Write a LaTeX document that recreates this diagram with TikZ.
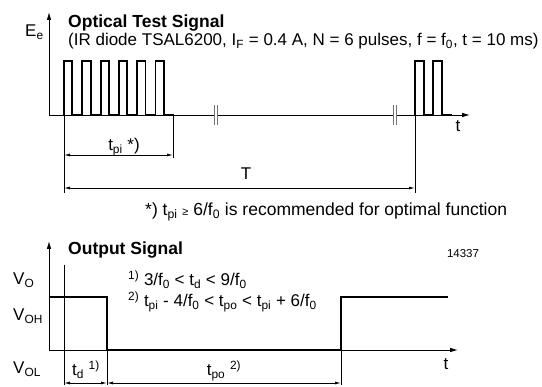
\documentclass[tikz,border=0pt]{standalone}
\usepackage{fontspec}
\setmainfont{Liberation Sans}
\usetikzlibrary{arrows.meta}

\newcommand{\sub}[1]{\textsubscript{#1}}
\newcommand{\fnote}[1]{\textsuperscript{#1}}

\begin{document}
\begin{tikzpicture}[x=1pt, y=-1pt,
  axis/.style={line width=0.8pt, -{Latex[length=8pt,width=4.5pt]}},
  signal/.style={line width=1.8pt},
  guide/.style={line width=0.8pt},
  dimline/.style={line width=0.8pt, {Latex[length=6pt,width=3pt]}-{Latex[length=6pt,width=3pt]}},
  breakmark/.style={line width=1pt, black!55},
  txt/.style={font=\fontsize{17}{19}\selectfont, inner sep=0pt},
  head/.style={font=\fontsize{17.5}{19}\selectfont\bfseries, inner sep=0pt},
]
\useasboundingbox (0,0) rectangle (542,387);

% optical test signal
\coordinate (o1) at (49,115);
\coordinate (ytip1) at (49,12);
\coordinate (xtip1) at (470,115);
\draw[axis] (o1) -- (ytip1);
\draw[axis] (o1) -- (xtip1);

\draw[signal] (64,115) \foreach \k in {0,...,5} {
  -- ++(0,-54) -- ++(8.3,0) -- ++(0,54) -- ++(10,0) };
\draw[signal] (415,115) \foreach \k in {0,1} {
  -- ++(0,-54) -- ++(9,0) -- ++(0,54) -- ++(9.3,0) };

\foreach \bx in {214.3,393.3} {
  \fill[white] (\bx,111) rectangle (\bx+3.4,119);
  \draw[breakmark] (\bx,105) -- (\bx,125) (\bx+3.4,105) -- (\bx+3.4,125);
}

\coordinate (p0) at (64,115);
\coordinate (p1) at (173,115);
\coordinate (p2) at (415,115);
\coordinate (p0b) at (64,193);
\coordinate (p1b) at (173,158);
\coordinate (p2b) at (415,193);
\draw[guide] (p0) -- (p0b);
\draw[guide] (p1) -- (p1b);
\draw[guide] (p2) -- (p2b);
\draw[dimline] (64,155) coordinate (tpiL) -- (173,155) coordinate (tpiR);
\draw[dimline] (64,188) coordinate (TL) -- (415,188) coordinate (TR);

\node[txt, anchor=base west] (ee) at (25,37) {E\sub{e}};
\node[head, anchor=base west] (title1) at (68,28) {Optical Test Signal};
\node[txt, anchor=base west] (params) at (68,46)
  {(IR diode TSAL6200, I\sub{F} = 0.4 A, N = 6 pulses, f = f\sub{0}, t = 10 ms)};
\node[txt, anchor=base] (tpi) at (124,151) {t\sub{pi} *)};
\node[txt, anchor=base] (period) at (246,180) {T};
\node[txt, anchor=base] (t1) at (458,132) {t};
\node[txt, font=\fontsize{17.5}{19}\selectfont, anchor=base west] (note) at (145,216)
  {*) t\sub{pi} {\fontsize{11}{12}\selectfont ≥} 6/f\sub{0} is recommended for optimal function};

% output signal
\coordinate (o2) at (49,350);
\coordinate (ytip2) at (49,241);
\coordinate (xtip2) at (458,350);
\draw[axis] (o2) -- (ytip2);
\draw[axis] (o2) -- (xtip2);

\draw[signal] (49,297) -- (107,297) -- (107,350) -- (341,350) -- (341,297) -- (448,297);

\coordinate (q0) at (64,265);
\coordinate (q1) at (107,350);
\coordinate (q2) at (341,350);
\draw[guide] (q0) -- (64,385);
\draw[guide] (q1) -- (107,385);
\draw[guide] (q2) -- (341,385);
\draw[dimline] (64,383) coordinate (tdL) -- (107,383) coordinate (tdR);
\draw[dimline] (tdR) -- (341,383) coordinate (tpoR);

\node[head, anchor=base west] (title2) at (68,255) {Output Signal};
\node[txt, font=\fontsize{11.5}{12}\selectfont, anchor=base] (fignum) at (463,258) {14337};
\node[txt, anchor=base west] (vo) at (13,285) {V\sub{O}};
\node[txt, anchor=base west] (voh) at (13,321) {V\sub{OH}};
\node[txt, anchor=base west] (vol) at (13,374) {V\sub{OL}};
\node[txt, anchor=base west] (cond1) at (128,286)
  {\fnote{1)} 3/f\sub{0} < t\sub{d} < 9/f\sub{0}};
\node[txt, anchor=base west] (cond2) at (128,307)
  {\fnote{2)} t\sub{pi} - 4/f\sub{0} < t\sub{po} < t\sub{pi} + 6/f\sub{0}};
\node[txt, anchor=base] (td) at (86,376) {t\sub{d} \fnote{1)}};
\node[txt, anchor=base] (tpo) at (224,376) {t\sub{po} \fnote{2)}};
\node[txt, anchor=base] (t2) at (446,370) {t};
\end{tikzpicture}
\end{document}
